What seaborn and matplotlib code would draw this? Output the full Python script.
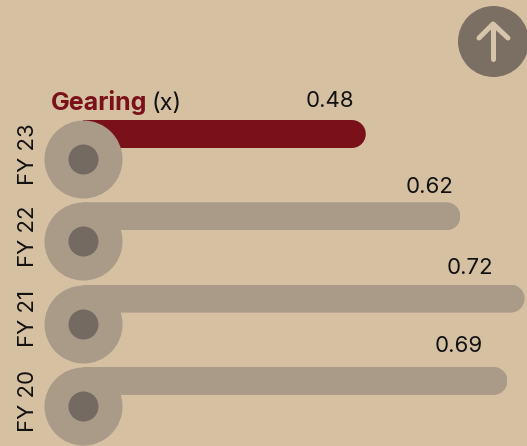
import matplotlib
matplotlib.use("Agg")
import matplotlib.pyplot as plt
import numpy as np
import pandas as pd
import seaborn as sns
from matplotlib.path import Path
from matplotlib.transforms import Affine2D, IdentityTransform

years = ["FY 23", "FY 22", "FY 21", "FY 20"]
gearing = [0.48, 0.623, 0.72, 0.694]
value_labels = ["0.48", "0.62", "0.72", "0.69"]
colours = ["#7A1119", "#A99B88", "#A99B88", "#A99B88"]
paper = "#D5C0A2"

sns.set_theme(style="white")
plt.rcParams["font.family"] = ["Inter", "DejaVu Sans"]

W, H = 527, 446
fig = plt.figure(figsize=(W / 100, H / 100), dpi=100, facecolor=paper)
ax = fig.add_axes([0, 0, 1, 1])

# %%
df = pd.DataFrame({"year": years, "gearing": gearing, "pos": np.arange(len(years))})
sns.barplot(
    data=df,
    x="gearing",
    y="pos",
    hue="year",
    palette=colours,
    saturation=1,
    linewidth=0,
    orient="y",
    native_scale=True,
    dodge=False,
    width=28 / 82.3,
    legend=False,
    ax=ax,
)

# axis pixels: value 0 at x=48, 662 px per unit, rows 82.3 px apart
ax.set_xlim(-48 / 662, (W - 48) / 662)
ax.set_ylim((H - 134) / 82.3, -134 / 82.3)
ax.axis("off")

start = 35 / 662  # bars come out of the centre of the dial
circle_y = df["pos"] + 25 / 82.3
circles = pd.DataFrame({"x": start, "y": circle_y})

# round the right end of each bar with a clip path, left end is under the dial
fig.canvas.draw()
t = np.linspace(np.pi / 2, -np.pi / 2, 40)
for bar in ax.patches:
    end = bar.get_width()
    x1, y1 = ax.transData.transform((end, bar.get_y()))
    _, y2 = ax.transData.transform((end, bar.get_y() + bar.get_height()))
    r = abs(y2 - y1) / 2
    ym = (y1 + y2) / 2
    arc = np.column_stack([x1 - r + r * np.cos(t), ym + r * np.sin(t)])
    verts = np.vstack([[[0, ym + r]], arc, [[0, ym - r]], [[0, ym + r]]])
    bar.set_x(start)
    bar.set_width(end - start)
    bar.set_clip_path(Path(verts), IdentityTransform())

sns.scatterplot(data=circles, x="x", y="y", s=3156, color="#A99B88", linewidth=0, zorder=3, ax=ax, clip_on=False)
sns.scatterplot(data=circles, x="x", y="y", s=467, color="#756A61", linewidth=0, zorder=4, ax=ax, clip_on=False)
ax.axis("off")

# value labels sit at uneven distances from the bar ends
offsets = [(-36, 33), (-31, 29), (-55, 31), (-49, 35)]
for val, lab, pos, off in zip(gearing, value_labels, df["pos"], offsets):
    ax.annotate(
        lab, (val, pos), xytext=(off[0] * 0.72, off[1] * 0.72), textcoords="offset points",
        ha="center", va="center", fontsize=16, color="#111111",
    )

for yr, cy in zip(years, circle_y):
    ax.annotate(
        yr, (start, cy), xytext=(-55 * 0.72, 5 * 0.72), textcoords="offset points",
        rotation=90, ha="center", va="center", fontsize=16, color="#111111",
    )

# heading
px = Affine2D().scale(1, -1).translate(0, H)
ax.text(51, 110, "Gearing", transform=px, fontsize=18, fontweight="bold", color="#7A1119", va="baseline")
ax.text(152, 110, "(x)", transform=px, fontsize=17, color="#111111", va="baseline")

# scroll-up button
ax.scatter([493], [41], s=(71 * 0.72) ** 2, color="#7B6E63", linewidth=0, transform=px, clip_on=False, zorder=5)
ax.plot([493, 493], [24, 59], color="#D6C4AB", lw=3.6, solid_capstyle="round", transform=px, zorder=6)
ax.plot([479, 493, 508], [38, 24, 38], color="#D6C4AB", lw=3.6, solid_capstyle="round",
        solid_joinstyle="round", transform=px, zorder=6)

fig.savefig("out.png", dpi=100, facecolor=paper)
